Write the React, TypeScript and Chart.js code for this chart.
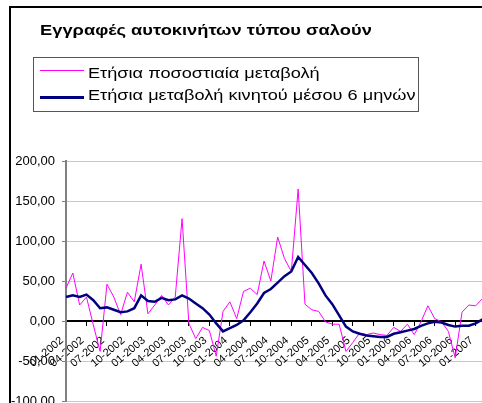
import React, { useEffect, useRef } from "react";
import { Chart, registerables } from "chart.js";

Chart.register(...registerables);

const categories = [
  "01-2002", "02-2002", "03-2002", "04-2002", "05-2002", "06-2002", "07-2002", "08-2002", "09-2002", "10-2002", "11-2002", "12-2002",
  "01-2003", "02-2003", "03-2003", "04-2003", "05-2003", "06-2003", "07-2003", "08-2003", "09-2003", "10-2003", "11-2003", "12-2003",
  "01-2004", "02-2004", "03-2004", "04-2004", "05-2004", "06-2004", "07-2004", "08-2004", "09-2004", "10-2004", "11-2004", "12-2004",
  "01-2005", "02-2005", "03-2005", "04-2005", "05-2005", "06-2005", "07-2005", "08-2005", "09-2005", "10-2005", "11-2005", "12-2005",
  "01-2006", "02-2006", "03-2006", "04-2006", "05-2006", "06-2006", "07-2006", "08-2006", "09-2006", "10-2006", "11-2006", "12-2006",
  "01-2007", "02-2007",
];

const annualChange = [
  41, 60, 20, 30, -5, -38, 46, 30, 8, 36, 24, 71,
  9, 20, 32, 20, 30, 128, -3, -22, -8, -12, -44, 12,
  24, 3, 37, 41, 33, 75, 50, 105, 78, 62, 165, 21,
  14, 12, -1, -4, -4, -38, -27, -15, -17, -15, -17, -18,
  -8, -13, -4, -17, -1, 19, 3, -1, -13, -46, 11, 20,
  19, 28,
];

const movingAvg6 = [
  30, 32, 30, 33, 26, 16, 17, 14, 11, 12, 16, 32,
  25, 24, 29, 26, 27, 32, 28, 22, 16, 8, -3, -13,
  -9, -5, 1, 11, 22, 35, 40, 48, 56, 62, 80, 70,
  60, 47, 32, 21, 7, -7, -13, -16, -18, -19, -20, -20,
  -16, -14, -12, -10, -6, -3, -1, -2, -5, -7, -6, -6,
  -3, 2,
];

const seriesNames = ["Ετήσια ποσοστιαία μεταβολή", "Ετήσια μεταβολή κινητού μέσου 6 μηνών"];
const seriesColors = ["#FF00FF", "#000080"];
const titleText = "Εγγραφές αυτοκινήτων τύπου σαλούν";
const yMin = -100;
const yMax = 200;
const yStep = 50;

const FONT = '"Liberation Sans", Arial, sans-serif';

export default function App() {
  const ref = useRef<HTMLCanvasElement | null>(null);

  useEffect(() => {
    if (!ref.current) return;
    const chart = new Chart(ref.current, {
      type: "line",
      data: {
        labels: categories,
        datasets: [
          {
            label: seriesNames[0],
            data: annualChange,
            borderColor: seriesColors[0],
            backgroundColor: seriesColors[0],
            borderWidth: 1,
            pointRadius: 0,
            tension: 0,
            order: 2,
          },
          {
            label: seriesNames[1],
            data: movingAvg6,
            borderColor: seriesColors[1],
            backgroundColor: seriesColors[1],
            borderWidth: 2.5,
            pointRadius: 0,
            tension: 0,
            order: 1,
          },
        ],
      },
      options: {
        responsive: false,
        animation: false,
        layout: { padding: { left: 0, top: 161, right: 17, bottom: 19 } },
        plugins: {
          legend: { display: false },
          title: { display: false },
          tooltip: { enabled: false },
        },
        scales: {
          x: {
            type: "category",
            position: { y: 0 } as any,
            offset: false,
            grid: {
              drawOnChartArea: false,
              drawTicks: true,
              tickLength: 4,
              tickColor: (ctx: any) => (ctx.index % 3 === 0 ? "#000" : "rgba(0,0,0,0)"),
            },
            border: { color: "#000", width: 2 },
            ticks: {
              autoSkip: false,
              maxRotation: 40,
              minRotation: 40,
              color: "#000",
              padding: 9,
              labelOffset: -4,
              font: { family: FONT, size: 11 },
              callback: (_v: any, i: number) => (i % 3 === 0 ? categories[i] : ""),
            },
          },
          y: {
            min: yMin,
            max: yMax,
            afterFit: (s: any) => {
              s.width = 66;
            },
            grid: {
              color: "#c8c8c8",
              lineWidth: 1,
              tickColor: "#808080",
              tickLength: 4,
            },
            border: { color: "#808080", width: 2 },
            ticks: {
              stepSize: yStep,
              color: "#000",
              padding: 7,
              font: { family: FONT, size: 13 },
              callback: (v: any) => Number(v).toFixed(2).replace(".", ","),
            },
          },
        },
      },
    });
    return () => chart.destroy();
  }, []);

  const textBase: React.CSSProperties = {
    position: "absolute",
    lineHeight: 1,
    color: "#000",
    whiteSpace: "nowrap",
    transformOrigin: "0 0",
  };

  return (
    <div
      style={{
        position: "fixed",
        left: 0,
        top: 0,
        width: 482,
        height: 403,
        overflow: "hidden",
        background: "#fff",
        fontFamily: FONT,
      }}
    >
      <div
        style={{
          position: "absolute",
          left: 9,
          top: 6,
          width: 700,
          height: 700,
          border: "2px solid #000",
          boxSizing: "border-box",
        }}
      />
      <canvas ref={ref} width={500} height={420} style={{ position: "absolute", left: 0, top: 0 }} />
      <div style={{ ...textBase, left: 40, top: 22, fontSize: 15, fontWeight: "bold", transform: "scaleX(1.22)" }}>
        {titleText}
      </div>
      <div
        style={{
          position: "absolute",
          left: 33,
          top: 57,
          width: 386,
          height: 55,
          border: "1px solid #555",
          boxSizing: "border-box",
          background: "#fff",
        }}
      />
      <div style={{ position: "absolute", left: 40, top: 70, width: 44, height: 1, background: seriesColors[0] }} />
      <div style={{ position: "absolute", left: 40, top: 96, width: 44, height: 3, background: seriesColors[1] }} />
      <div style={{ ...textBase, left: 88, top: 65, fontSize: 15, transform: "scaleX(1.21)" }}>{seriesNames[0]}</div>
      <div style={{ ...textBase, left: 88, top: 87, fontSize: 15, transform: "scaleX(1.21)" }}>{seriesNames[1]}</div>
    </div>
  );
}
